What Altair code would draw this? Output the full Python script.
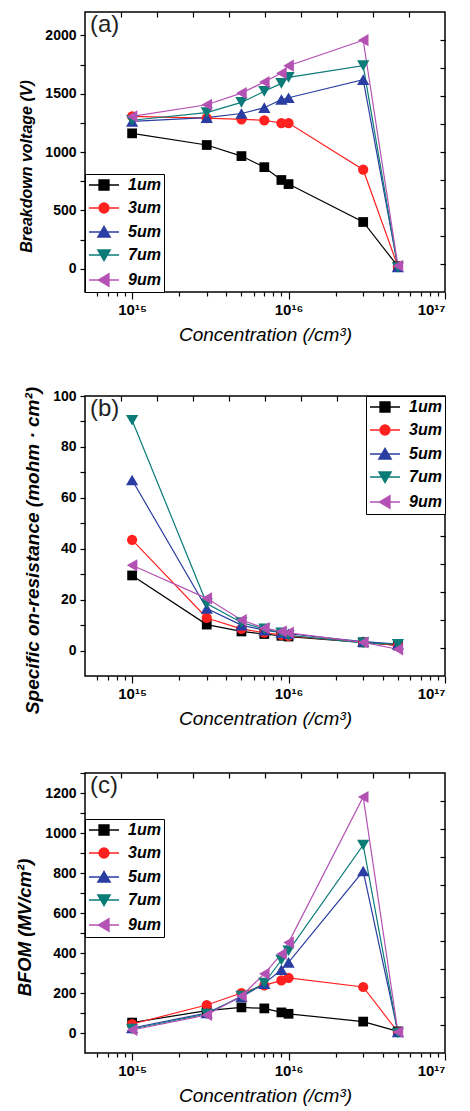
import altair as alt
import pandas as pd

FONT = "Liberation Sans, Arial, DejaVu Sans"

conc = [1e15, 3e15, 5e15, 7e15, 9e15, 1e16, 3e16, 5e16]
series = ["1um", "3um", "5um", "7um", "9um"]
colors = ["#000000", "#ff2020", "#2a3da2", "#0b7b78", "#b452b4"]
shapes = ["square", "circle", "triangle-up", "triangle-down", "triangle-left"]
marker_sizes = [95, 105, 150, 150, 150]

breakdown = {
    "1um": [1160, 1060, 965, 870, 760, 725, 400, 20],
    "3um": [1305, 1290, 1280, 1272, 1248, 1248, 848, 18],
    "5um": [1262, 1295, 1330, 1380, 1450, 1465, 1620, 15],
    "7um": [1272, 1338, 1425, 1520, 1588, 1640, 1740, 10],
    "9um": [1305, 1405, 1505, 1600, 1676, 1740, 1958, 25],
}
ron = {
    "1um": [29.5, 10.2, 7.5, 6.5, 5.8, 5.5, 3.2, 2.0],
    "3um": [43.5, 12.8, 8.5, 7.0, 6.2, 5.8, 3.3, 2.0],
    "5um": [67.0, 16.5, 10.0, 8.0, 7.0, 6.6, 3.5, 2.5],
    "7um": [90.5, 18.5, 11.0, 8.5, 7.0, 6.0, 3.0, 2.5],
    "9um": [33.5, 20.5, 12.0, 8.8, 7.5, 7.0, 3.2, 0.5],
}
bfom = {
    "1um": [52, 112, 128, 123, 103, 96, 57, 8],
    "3um": [45, 140, 200, 238, 263, 276, 230, 5],
    "5um": [25, 100, 180, 247, 316, 353, 810, 5],
    "7um": [20, 95, 185, 250, 365, 411, 940, 0],
    "9um": [15, 90, 185, 296, 395, 452, 1180, 5],
}

x_major = [1e15, 1e16, 1e17]
x_minor = [6e14, 7e14, 8e14, 9e14] + [k * 1e15 for k in range(2, 10)] + [k * 1e16 for k in range(2, 10)]
x_domain = [5e14, 1e17]

# legend symbols: a short line through the marker
legend_paths = [
    "M-3,0H3M-1,-1H1V1H-1Z",
    "M-3,0H3M-1,0A1,1,0,1,0,1,0A1,1,0,1,0,-1,0Z",
    "M-3,0H3M0,-1.15L-1.25,1H1.25Z",
    "M-3,0H3M0,1.15L-1.25,-1H1.25Z",
    "M-3,0H3M-1.15,0L1,-1.25V1.25Z",
]

W, H = 360, 280


def panel(values, label, ytitle, ytsize, ydomain, ystep, ylabstep, legend_kw):
    rows = []
    for s in series:
        for i, (c, v) in enumerate(zip(conc, values[s])):
            rows.append({"conc": c, "val": v, "series": s, "ord": i})
    df = pd.DataFrame(rows)

    yvals = list(range(0, ydomain[1] + 1, ystep))
    xscale = alt.Scale(type="log", domain=x_domain, nice=False)
    yscale = alt.Scale(domain=ydomain, nice=False, zero=False)
    xenc = alt.X(
        "conc:Q", scale=xscale,
        axis=alt.Axis(
            values=x_major, tickSize=7, labelFontSize=15, labelPadding=3,
            labelExpr="datum.value < 5e15 ? '10¹⁵' : (datum.value < 5e16 ? '10¹⁶' : '10¹⁷')",
            title="Concentration (/cm³)", titleFontSize=19, titleFontStyle="italic",
            titleFontWeight="normal", titlePadding=8,
        ),
    )
    yenc = alt.Y(
        "val:Q", scale=yscale,
        axis=alt.Axis(
            values=yvals, format="d", tickSize=5, labelFontSize=14, labelPadding=4,
            labelExpr=f"datum.value % {ylabstep} === 0 ? datum.label : ''",
            title=ytitle, titleFontSize=ytsize, titleFontStyle="italic", titleFontWeight="bold",
            titleY=H / 2 + 14, titlePadding=10,
        ),
    )
    legend = alt.Legend(
        title=None, labelFont=FONT, labelFontSize=16, labelFontStyle="italic",
        labelFontWeight="bold", labelColor="black", labelOffset=16, rowPadding=7,
        symbolSize=100, symbolOffset=8, symbolStrokeWidth=1.3, symbolOpacity=1,
        strokeColor="black", fillColor="white", padding=3,
        **legend_kw,
    )
    cscale = alt.Scale(domain=series, range=colors)

    lines = alt.Chart(df).mark_line(strokeWidth=1.2).encode(
        x=xenc, y=yenc,
        color=alt.Color("series:N", scale=cscale, legend=None),
        order="ord:Q",
    )
    point_layers = []
    for s, col, shp, sz in zip(series, colors, shapes, marker_sizes):
        point_layers.append(
            alt.Chart(df).transform_filter(alt.datum.series == s).mark_point(
                filled=True, size=sz, opacity=1, shape=shp, color=col
            ).encode(x=xenc, y=yenc)
        )
    txt = alt.Chart(pd.DataFrame({"t": [label]})).mark_text(
        align="left", baseline="top", fontSize=24, font=FONT, color="#222"
    ).encode(x=alt.value(5), y=alt.value(1), text="t:N")
    main = alt.layer(lines, *point_layers, txt)

    # invisible marks that only provide the legend (line + marker symbols)
    leg = alt.Chart(df).mark_point(filled=True, size=100, strokeWidth=1.3, opacity=0).encode(
        x=alt.X("conc:Q", scale=xscale, axis=None),
        y=alt.Y("val:Q", scale=yscale, axis=None),
        fill=alt.Fill("series:N", scale=alt.Scale(domain=series, range=colors), legend=legend),
        stroke=alt.Stroke("series:N", scale=alt.Scale(domain=series, range=colors), legend=legend),
        shape=alt.Shape("series:N", scale=alt.Scale(domain=series, range=legend_paths), legend=legend),
    )

    minor = alt.Chart(pd.DataFrame({"xm": x_domain, "ym": [0, 10]})).mark_point(opacity=0).encode(
        x=alt.X("xm:Q", scale=xscale,
                axis=alt.Axis(orient="bottom", values=x_minor, tickSize=4, labels=False, title=None)),
        y=alt.Y("ym:Q", scale=alt.Scale(domain=[0, 10], nice=False),
                axis=alt.Axis(orient="right", values=list(range(1, 10)), tickSize=5, offset=-5,
                              labels=False, title=None)),
    )
    top = alt.Chart(pd.DataFrame({"xt": [0, 10], "yt": [0, 10]})).mark_point(opacity=0).encode(
        x=alt.X("xt:Q", scale=alt.Scale(domain=[0, 10], nice=False),
                axis=alt.Axis(orient="top", values=list(range(1, 10)), tickSize=5, offset=-5,
                              labels=False, title=None)),
        y=alt.Y("yt:Q", scale=alt.Scale(domain=[0, 10], nice=False), axis=None),
    )
    return alt.layer(main, leg, minor, top).resolve_scale(x="independent", y="independent").properties(
        width=W, height=H
    )


pa = panel(breakdown, "(a)", "Breakdown voltage (V)", 16, [-200, 2200], 250, 500,
           dict(orient="bottom-left", offset=0))
pb = panel(ron, "(b)", "Specific on-resistance (mohm · cm²)", 19, [-10, 100], 10, 20,
           dict(orient="top-right", offset=0))
pc = panel(bfom, "(c)", "BFOM (MV/cm²)", 18.5, [-100, 1300], 100, 200,
           dict(orient="none", legendX=0, legendY=46))

chart = alt.vconcat(pa, pb, pc, spacing=40).resolve_scale(
    fill="independent", stroke="independent", shape="independent"
).properties(
    padding={"left": 7, "top": 0, "right": 0, "bottom": 0}
).configure(font=FONT).configure_view(
    stroke="black", strokeWidth=1.5
).configure_axis(
    domain=False, grid=False, tickColor="black", tickWidth=1.2,
    labelFont=FONT, labelFontWeight="bold", labelColor="black",
    titleFont=FONT, titleColor="black",
)

chart.save("out.html", embed_options={"renderer": "svg", "actions": False})
